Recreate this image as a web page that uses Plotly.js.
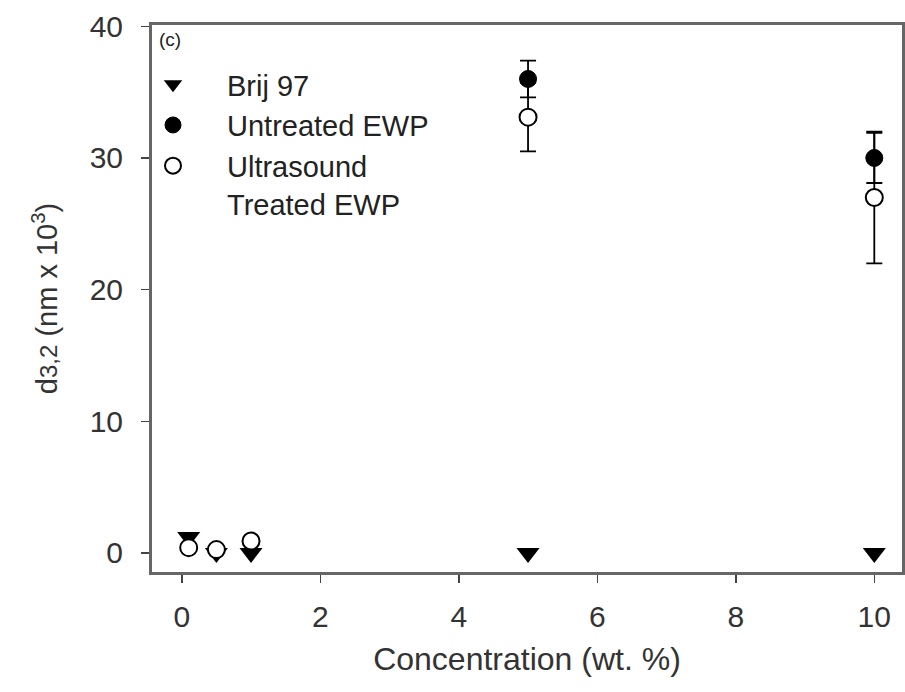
<!DOCTYPE html>
<html>
<head>
<meta charset="utf-8">
<script src="https://cdn.plot.ly/plotly-3.0.1.min.js"></script>
<style>html,body{margin:0;padding:0;background:#fff;}#chart{width:905px;height:692px;}</style>
</head>
<body>
<div id="chart"></div>
<script>
// Data
const brijX = [0.1, 0.5, 1, 5, 10];
const brijY = [1.2, 0.0, 0.0, 0.0, 0.0];

const untreatedX = [5, 10];
const untreatedY = [36.0, 30.0];
const untreatedErr = [1.4, 1.9];

const ultraX = [0.1, 0.5, 1, 5, 10];
const ultraY = [0.4, 0.25, 0.9, 33.1, 27.0];
const ultraErr = [0, 0, 0, 2.6, 5.0];

const xTicks = [0, 2, 4, 6, 8, 10];
const yTicks = [0, 10, 20, 30, 40];

const font = "Liberation Sans, Arial, sans-serif";

const traces = [
  {
    x: brijX, y: brijY, type: 'scatter', mode: 'markers', name: 'Brij 97',
    legendgroup: 'a', legendrank: 1,
    marker: {symbol: 'triangle-down', size: 20, color: '#000'}
  },
  {
    x: ultraX, y: ultraY, type: 'scatter', mode: 'markers', name: 'Ultrasound<br>Treated EWP',
    legendgroup: 'c', legendrank: 3,
    marker: {symbol: 'circle', size: 17, color: '#fff', line: {color: '#000', width: 2}},
    error_y: {type: 'data', array: ultraErr, visible: true, color: '#000', thickness: 1.8, width: 8}
  },
  {
    x: untreatedX, y: untreatedY, type: 'scatter', mode: 'markers', name: 'Untreated EWP',
    legendgroup: 'b', legendrank: 2,
    marker: {symbol: 'circle', size: 17, color: '#000', line: {color: '#000', width: 1}},
    error_y: {type: 'data', array: untreatedErr, visible: true, color: '#000', thickness: 1.8, width: 8}
  }
];

const layout = {
  width: 905, height: 692,
  margin: {l: 152, r: 3, t: 25, b: 120},
  paper_bgcolor: '#fff', plot_bgcolor: '#fff',
  font: {family: font, color: '#222', size: 30},
  showlegend: true,
  legend: {
    x: -0.044, y: 0.938, xanchor: 'left', yanchor: 'top',
    bgcolor: 'rgba(0,0,0,0)', font: {family: font, size: 29, color: '#222'},
    tracegroupgap: 0, itemwidth: 98, traceorder: 'normal', valign: 'top'
  },
  xaxis: {
    range: [-0.43, 10.4], tickvals: xTicks, ticktext: xTicks.map(String),
    showgrid: false, zeroline: false,
    showline: true, linecolor: '#666', linewidth: 3, mirror: true,
    ticks: 'outside', ticklen: 8, tickwidth: 1.5, tickcolor: '#444',
    ticklabelstandoff: 8,
    tickfont: {family: font, size: 30, color: '#333'},
    title: {text: 'Concentration (wt. %)', font: {family: font, size: 32, color: '#333'}, standoff: 16}
  },
  yaxis: {
    range: [-1.45, 40.1], tickvals: yTicks, ticktext: yTicks.map(String),
    showgrid: false, zeroline: false,
    showline: true, linecolor: '#666', linewidth: 3, mirror: true,
    ticks: 'outside', ticklen: 8, tickwidth: 1.5, tickcolor: '#444',
    ticklabelstandoff: 12,
    tickfont: {family: font, size: 30, color: '#333'},
    title: {text: 'd<span style="font-size:24px">3,2</span> (nm x 10<sup>3</sup>)', font: {family: font, size: 29, color: '#333'}, standoff: 24}
  },
  annotations: [
    {text: '(c)', xref: 'paper', yref: 'paper', x: 0.006, y: 0.997, xanchor: 'left', yanchor: 'top',
     showarrow: false, font: {family: font, size: 19, color: '#222'}}
  ]
};

Plotly.newPlot('chart', traces, layout, {displayModeBar: false, staticPlot: true});
</script>
</body>
</html>
